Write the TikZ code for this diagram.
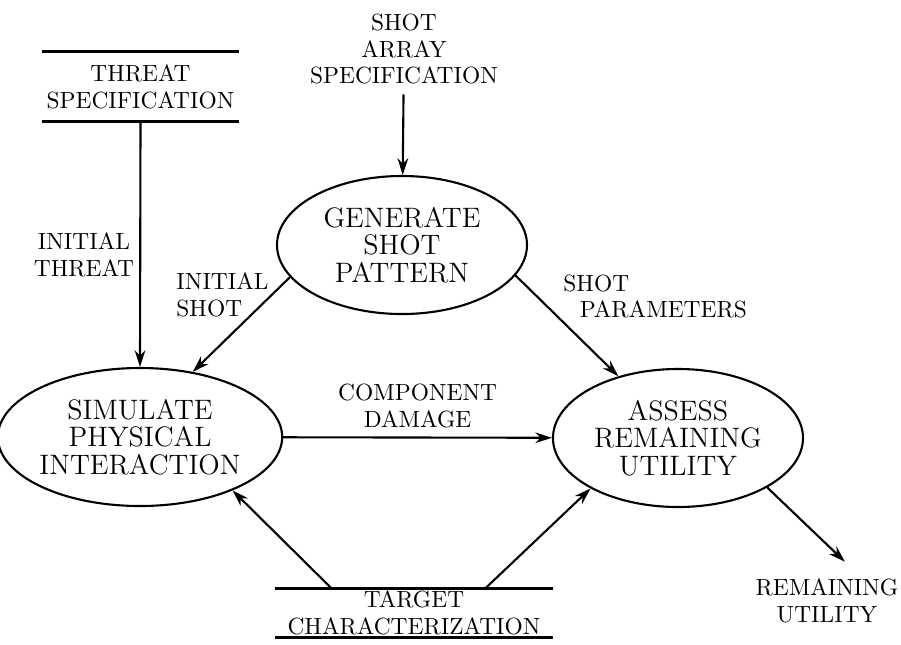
\documentclass[tikz,border=0pt]{standalone}
\usepackage{tikz}
\usetikzlibrary{shapes.geometric, arrows.meta, positioning, calc}

\begin{document}
\begin{tikzpicture}[
    x=0.015cm, y=-0.015cm,
    process/.style={draw, ellipse, line width=0.9pt, minimum width=3.75cm, minimum height=2.07cm, inner sep=0pt, align=center, font=\fontsize{12}{11.8}\selectfont},
    store/.style={inner sep=0pt, align=center, font=\fontsize{10}{11.5}\selectfont},
    flowlabel/.style={inner sep=0pt, align=center, font=\fontsize{10}{11.5}\selectfont},
    storeline/.style={line width=1pt},
    arrow/.style={-{Stealth[length=2.5mm, width=1.6mm]}, line width=0.9pt},
  ]
  \useasboundingbox (0,0) rectangle (901,644);

  % Processes
  \node[process] (gen) at (402,245) {GENERATE\\SHOT\\PATTERN};
  \node[process] (sim) at (140,437) {SIMULATE\\PHYSICAL\\INTERACTION};
  \node[process] (assess) at (678,438) {ASSESS\\REMAINING\\UTILITY};

  % Data stores, one line above and one below
  \node[store, minimum width=2.955cm, minimum height=1.035cm] (threat) at (140.5,86.5) {THREAT\\SPECIFICATION};
  \draw[storeline] (threat.north west) -- (threat.north east);
  \draw[storeline] (threat.south west) -- (threat.south east);

  \node[store, minimum width=4.17cm, minimum height=0.72cm] (target) at (414,613) {TARGET\\CHARACTERIZATION};
  \draw[storeline] (target.north west) -- (target.north east);
  \draw[storeline] (target.south west) -- (target.south east);

  % External input and output
  \node[flowlabel, inner ysep=4pt] (shotspec) at (404,49) {SHOT\\ARRAY\\SPECIFICATION};
  \node[flowlabel] (remain) at (827,600.5) {REMAINING\\UTILITY};

  % Flow labels
  \node[flowlabel] (initthreat) at (84,255) {INITIAL\\THREAT};
  \node[flowlabel, anchor=west, align=left] (initshot) at (176,295) {INITIAL\\SHOT};
  \node[flowlabel, anchor=west, align=left] (shotpar) at (563,296.5) {SHOT\\\hspace*{7pt}PARAMETERS};

  % Flows
  \draw[arrow] (shotspec) -- (gen);
  \draw[arrow] (threat.south) -- (sim.north);
  \draw[arrow] (gen.-164) -- (sim.51);
  \draw[arrow] (gen.-15) -- (assess.134);
  \draw[arrow] (sim) -- node[flowlabel, midway, above=3.5pt] (dmg) {COMPONENT\\DAMAGE} (assess);
  \draw[arrow] ($(target.north west)!.205!(target.north east)$) -- (sim.-30.6);
  \draw[arrow] ($(target.north west)!.755!(target.north east)$) -- (assess.-150.7);
  \draw[arrow, shorten >=10pt] (assess.-29) -- (remain.33);

\end{tikzpicture}
\end{document}
